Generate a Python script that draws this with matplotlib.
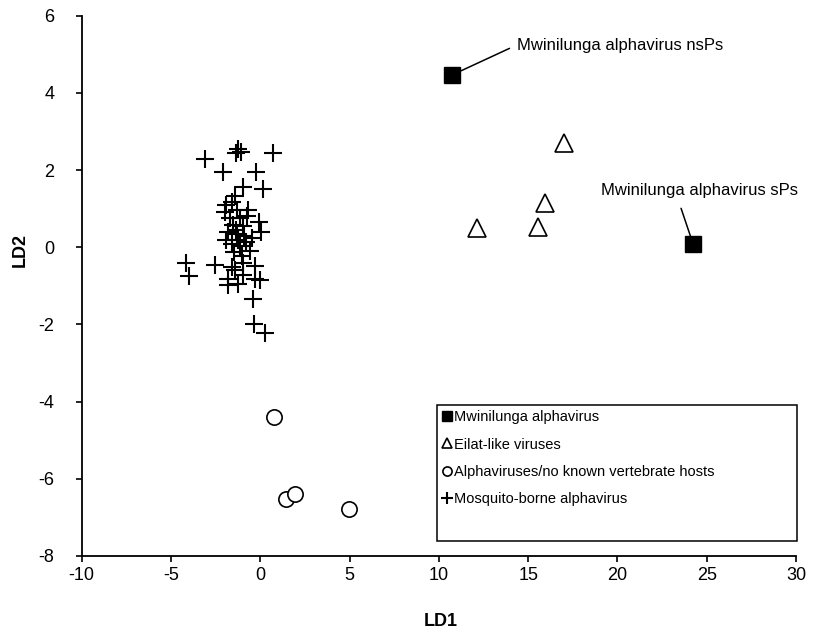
import matplotlib
matplotlib.use("Agg")
import matplotlib.pyplot as plt
from matplotlib.patches import Rectangle

plt.rcParams['font.family'] = ['Liberation Sans', 'DejaVu Sans']
plt.rcParams['axes.unicode_minus'] = False

# ---- data ----
mw_ld1 = [10.72, 24.24]
mw_ld2 = [4.46, 0.08]
mw_labels = ["Mwinilunga alphavirus nsPs", "Mwinilunga alphavirus sPs"]

eilat_ld1 = [17.02, 15.94, 15.57, 12.12]
eilat_ld2 = [2.71, 1.15, 0.53, 0.49]

novert_ld1 = [0.77, 1.42, 1.93, 4.98]
novert_ld2 = [-4.41, -6.53, -6.39, -6.79]

mosq_ld1 = [-3.10, -2.07, -1.36, -1.10, -1.25, 0.73, -0.24, -0.99, 0.13,
            -1.92, -1.60, -1.32, -0.67, -1.70, -1.14, -0.06, -1.51, 0.04,
            -1.81, -1.36, -0.91, -1.25, -0.80, -1.58, -1.14, -0.58, -1.47,
            -1.02, -1.30, -0.97, -2.54, -1.60, -0.95, -0.30, -1.79, -1.42,
            -0.95, -0.30, -0.02, -1.79, -1.23, -4.16, -3.97, -0.39, -0.34,
            0.26, -1.98, -0.74, -1.42, -0.46, -1.92]
mosq_ld2 = [2.28, 1.95, 2.45, 2.47, 2.54, 2.45, 1.95, 1.57, 1.51,
            1.09, 1.18, 0.96, 0.96, 0.75, 0.75, 0.66, 0.57, 0.39,
            0.39, 0.44, 0.29, 0.18, 0.13, 0.08, 0.03, -0.10, -0.13,
            -0.23, 0.34, 0.55, -0.46, -0.50, -0.41, -0.49, -0.81, -0.59,
            -0.72, -0.81, -0.85, -0.98, -0.94, -0.42, -0.74, -1.33, -1.98,
            -2.22, 0.91, 0.81, 1.32, 0.24, 0.18]

legend_labels = ["Mwinilunga alphavirus", "Eilat-like viruses",
                 "Alphaviruses/no known vertebrate hosts",
                 "Mosquito-borne alphavirus"]

x_ticks = [-10, -5, 0, 5, 10, 15, 20, 25, 30]
y_ticks = [-8, -6, -4, -2, 0, 2, 4, 6]

# annotation text anchor positions (layout)
ann_text_pos = [(14.36, 5.24), (19.06, 1.48)]

# ---- figure ----
fig = plt.figure(figsize=(8.24, 6.37), dpi=100)
ax = fig.add_axes([81.7/824, 1-556/637, (796-81.7)/824, (556-15.7)/637])

ax.plot(mosq_ld1, mosq_ld2, linestyle='none', marker='+', markersize=13.5,
        markeredgewidth=1.5, color='black', label=legend_labels[3], zorder=3)
ax.plot(novert_ld1, novert_ld2, linestyle='none', marker='o', markersize=11,
        markerfacecolor='white', markeredgecolor='black', markeredgewidth=1.2,
        label=legend_labels[2], zorder=3)
ax.plot(eilat_ld1, eilat_ld2, linestyle='none', marker='^', markersize=12.5,
        markerfacecolor='white', markeredgecolor='black', markeredgewidth=1.2,
        label=legend_labels[1], zorder=3)
ax.plot(mw_ld1, mw_ld2, linestyle='none', marker='s', markersize=12,
        markerfacecolor='black', markeredgecolor='black',
        label=legend_labels[0], zorder=4)

# annotations
ax.annotate(mw_labels[0], xy=(mw_ld1[0], mw_ld2[0]), xytext=ann_text_pos[0],
            ha='left', va='center', fontsize=12,
            arrowprops=dict(arrowstyle='-', color='black', lw=1.1,
                            shrinkA=3.5, shrinkB=7.5, relpos=(0, 0.5)))
ax.annotate(mw_labels[1], xy=(mw_ld1[1], mw_ld2[1]), xytext=ann_text_pos[1],
            ha='left', va='center', fontsize=12,
            arrowprops=dict(arrowstyle='-', color='black', lw=1.1,
                            shrinkA=6, shrinkB=5.5, relpos=(0.39, 0)))

ax.set_xlim(-10, 30)
ax.set_ylim(-8, 6)
ax.set_xticks(x_ticks)
ax.set_yticks(y_ticks)
ax.tick_params(direction='out', length=4.5, width=1.2, labelsize=13, colors='black')
ax.tick_params(axis='y', pad=15)
ax.tick_params(axis='x', pad=3.5)
for s in ['top', 'right']:
    ax.spines[s].set_visible(False)
for s in ['left', 'bottom']:
    ax.spines[s].set_linewidth(1.3)

ax.set_xlabel('LD1', fontsize=13, fontweight='bold', va='center')
ax.set_ylabel('LD2', fontsize=13, fontweight='bold', va='center')
ax.xaxis.set_label_coords(0.503, -0.1216)
ax.yaxis.set_label_coords(-0.0864, 0.566)

# legend box (frame drawn separately, entries placed at its top)
box_x0, box_y0, box_w, box_h = 0.4974, 0.0278, 0.504, 0.2517
ax.add_patch(Rectangle((box_x0, box_y0), box_w, box_h, transform=ax.transAxes,
                       facecolor='white', edgecolor='black', linewidth=1.1,
                       zorder=5, clip_on=False))
handles, labels = ax.get_legend_handles_labels()
order = [3, 2, 1, 0]
leg = ax.legend([handles[i] for i in order], [labels[i] for i in order],
                loc='upper left', bbox_to_anchor=(box_x0, box_y0 + box_h),
                fontsize=10.5, markerscale=0.6, handlelength=0.65,
                handletextpad=0.15, labelspacing=0.92, borderpad=0.35,
                borderaxespad=0, frameon=False)
leg.set_zorder(6)

fig.savefig('out.png', dpi=100)
